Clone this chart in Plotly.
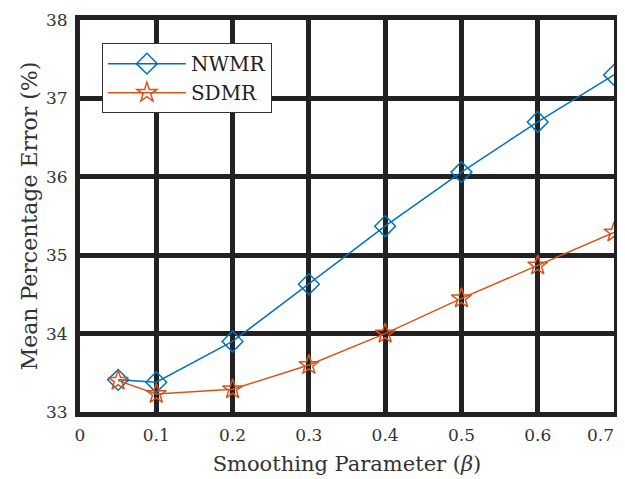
import plotly.graph_objects as go

beta = [0.05, 0.1, 0.2, 0.3, 0.4, 0.5, 0.6, 0.7]
nwmr = [33.41, 33.38, 33.90, 34.63, 35.37, 36.06, 36.70, 37.30]
sdmr = [33.40, 33.23, 33.29, 33.60, 34.00, 34.45, 34.87, 35.29]
x_ticks = [0, 0.1, 0.2, 0.3, 0.4, 0.5, 0.6, 0.7]
x_ticklabels = ["0", "0.1", "0.2", "0.3", "0.4", "0.5", "0.6", "0.7"]
y_ticks = [33, 34, 35, 36, 37, 38]

FONT = "DejaVu Serif"
GRID = "#222222"
TICKSIZE = 17

fig = go.Figure()
fig.add_trace(go.Scatter(x=beta, y=nwmr, name="NWMR", mode="lines+markers",
                         line=dict(color="#0072BD", width=1.5),
                         marker=dict(symbol="diamond-open", size=16, color="#0072BD",
                                     line=dict(width=1.5))))
fig.add_trace(go.Scatter(x=beta, y=sdmr, name="SDMR", mode="lines+markers",
                         line=dict(color="#D95319", width=1.5),
                         marker=dict(symbol="star-open", size=15, color="#D95319",
                                     line=dict(width=1.5))))

axis_common = dict(showgrid=True, gridcolor=GRID, gridwidth=5, automargin=False,
                   showline=True, linecolor=GRID, linewidth=5, mirror=True,
                   zeroline=False, ticks="", ticklabelstandoff=4,
                   tickfont=dict(family=FONT, size=TICKSIZE, color="#333"))

# last x tick label is drawn as an annotation, right-aligned so it stays inside the page
fig.update_xaxes(range=[0, 0.7], tickvals=x_ticks[:-1], ticktext=x_ticklabels[:-1],
                 title=dict(text="Smoothing Parameter (<i>β</i>)", font=dict(family=FONT, size=21, color="#333"),
                            standoff=13),
                 **axis_common)
fig.update_yaxes(range=[33, 38], tickvals=y_ticks,
                 title=dict(text="Mean Percentage Error (%)", font=dict(family=FONT, size=22, color="#333"),
                            standoff=4),
                 **axis_common)

fig.add_annotation(x=x_ticks[-1], y=0, xref="x", yref="paper", text=x_ticklabels[-1],
                   showarrow=False, xanchor="right", yanchor="top", xshift=2, yshift=-11,
                   font=dict(family=FONT, size=TICKSIZE, color="#333"))

fig.update_layout(width=617, height=471, paper_bgcolor="white", plot_bgcolor="white",
                  margin=dict(l=72, r=11, t=12, b=67),
                  font=dict(family=FONT, color="#333"),
                  legend=dict(x=0.041, y=0.941, xanchor="left", yanchor="top",
                              bgcolor="white", bordercolor="#333", borderwidth=1,
                              font=dict(family=FONT, size=20, color="#222"),
                              itemwidth=78, tracegroupgap=0),
                  showlegend=True)

fig.write_html("out.html")
